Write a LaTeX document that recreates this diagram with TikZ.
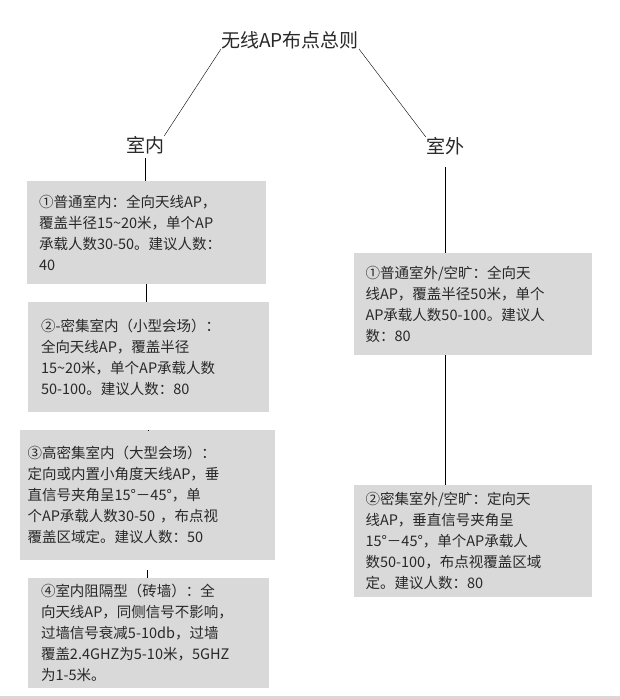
\documentclass[tikz,border=0pt]{standalone}
\usepackage{fontspec}
\newfontfamily\cjk{Noto Sans CJK SC}
\definecolor{boxgray}{RGB}{217,217,217}
\definecolor{ink}{RGB}{40,40,40}
\tikzset{
  rulebox/.style={fill=boxgray, text=ink, align=left, font=\cjk\fontsize{14.5}{21}\selectfont,
    inner sep=0pt, anchor=center},
  head/.style={text=ink, font=\cjk\fontsize{19}{22}\selectfont, inner sep=0pt}
}
\begin{document}
\begin{tikzpicture}[x=1pt,y=1pt]

  \useasboundingbox (0,0) rectangle (620,699);

  %% headings
  \node[head] (title)   at (290,659) {无线AP布点总则};
  \node[head] (indoor)  at (145,554) {室内};
  \node[head] (outdoor) at (445,553) {室外};

  %% indoor boxes
  \node[rulebox, minimum width=239, minimum height=103, text width=215] (in1) at (146.5,466.5)
  {①普通室内：全向天线AP，\\覆盖半径15\~{}20米，单个AP\\承载人数30-50。建议人数：\\40};
  \node[rulebox, minimum width=241, minimum height=110, text width=215] (in2) at (148.5,342)
  {②-密集室内（小型会场）：\\全向天线AP，覆盖半径\\15\~{}20米，单个AP承载人数\\50-100。建议人数：80};
  \node[rulebox, minimum width=255, minimum height=130, text width=240] (in3) at (147.5,204)
  {③高密集室内（大型会场）：\\定向或内置小角度天线AP，垂\\直信号夹角呈15°－45°，单\\个AP承载人数30-50 ，布点视\\覆盖区域定。建议人数：50};
  \node[rulebox, minimum width=241, minimum height=110, text width=215] (in4) at (148.5,66)
  {④室内阻隔型（砖墙）：全\\向天线AP，同侧信号不影响，\\过墙信号衰减5-10db，过墙\\覆盖2.4GHZ为5-10米，5GHZ\\为1-5米。};

  %% outdoor boxes
  \node[rulebox, minimum width=238, minimum height=102, text width=215] (out1) at (473,395)
  {①普通室外/空旷：全向天\\线AP，覆盖半径50米，单个\\AP承载人数50-100。建议人\\数：80};
  \node[rulebox, minimum width=238, minimum height=112, text width=215] (out2) at (473,158)
  {②密集室外/空旷：定向天\\线AP，垂直信号夹角呈\\15°－45°，单个AP承载人\\数50-100，布点视覆盖区域\\定。建议人数：80};

  %% connectors
  \draw (title.south west) -- (indoor.north east);
  \draw (title.south east) -- (outdoor.north west);
  \draw ([yshift=-4]indoor.south) -- (indoor.south |- in1.north);
  \draw (in1.south) -- (in1.south |- in2.north);
  \draw ([yshift=-18]in2.south) -- (in2.south |- in3.north);
  \draw ([yshift=-10]in3.south) -- (in3.south |- in4.north);
  \draw ([yshift=-12]outdoor.south) -- (outdoor.south |- out1.north);
  \draw (out1.south -| outdoor.south) -- (outdoor.south |- out2.north);

  %% page edge
  \fill[boxgray] (0,0) rectangle (620,3);

\end{tikzpicture}
\end{document}
